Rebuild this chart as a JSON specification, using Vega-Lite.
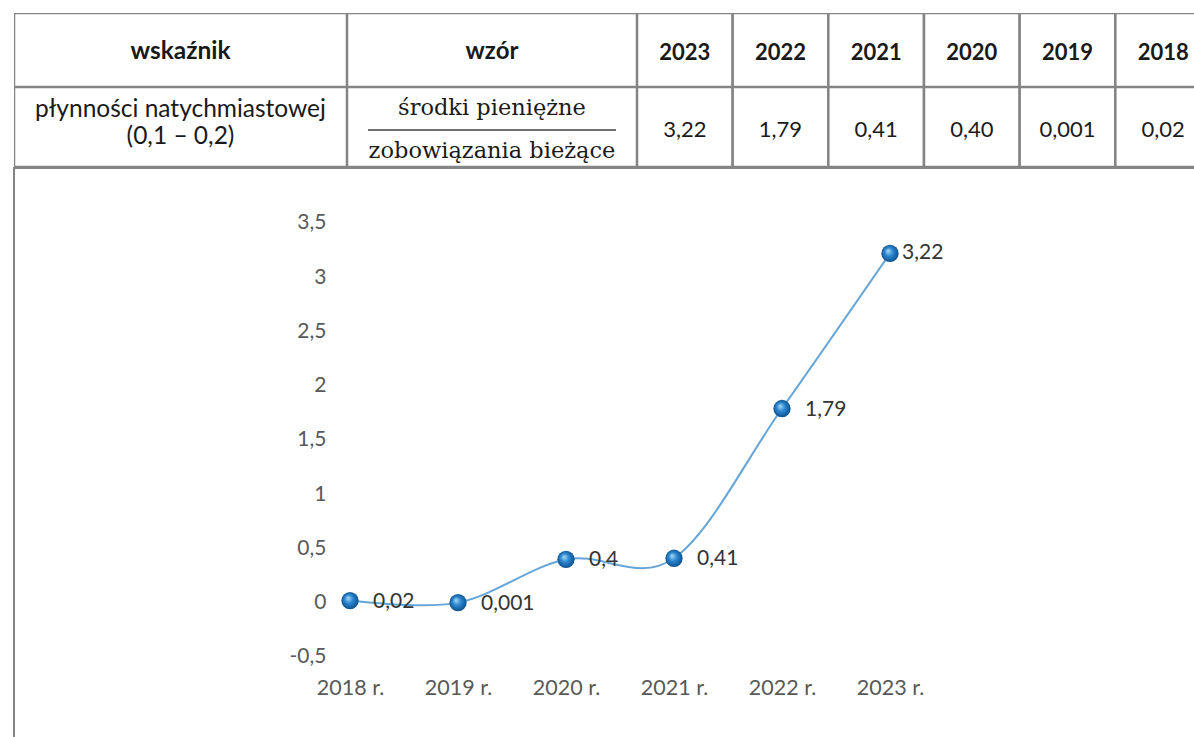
{
  "$schema": "https://vega.github.io/schema/vega-lite/v6.json",
  "background": "white",
  "padding": {"left": 13, "top": 13, "right": 0, "bottom": 0},
  "spacing": 0,
  "config": {
    "view": {"stroke": null},
    "concat": {"spacing": 0},
    "locale": {"number": {"decimal": ",", "thousands": " ", "grouping": [3], "currency": ["", " zł"], "minus": "-"}}
  },
  "vconcat": [
    {
      "spacing": 0,
      "hconcat": [
        {
          "width": 333,
          "height": 74,
          "data": {"values": [{"t": "wskaźnik"}]},
          "layer": [
            {"mark": {"type": "rect", "clip": true, "fill": "white", "stroke": "#858585", "strokeWidth": 2.5}, "encoding": {"x": {"value": 0}, "x2": {"value": "width"}, "y": {"value": 0}, "y2": {"value": "height"}}},
            {"mark": {"type": "text", "clip": true, "font": "Lato", "fontWeight": "bold", "fontSize": 24.5, "color": "#1a1a1a", "baseline": "middle", "yOffset": 2}, "encoding": {"text": {"field": "t"}}}
          ]
        },
        {
          "width": 290,
          "height": 74,
          "data": {"values": [{"t": "wzór"}]},
          "layer": [
            {"mark": {"type": "rect", "clip": true, "fill": "white", "stroke": "#858585", "strokeWidth": 2.5}, "encoding": {"x": {"value": 0}, "x2": {"value": "width"}, "y": {"value": 0}, "y2": {"value": "height"}}},
            {"mark": {"type": "text", "clip": true, "font": "Lato", "fontWeight": "bold", "fontSize": 24, "color": "#1a1a1a", "baseline": "middle", "yOffset": 2}, "encoding": {"text": {"field": "t"}}}
          ]
        },
        {
          "width": 574,
          "height": 74,
          "data": {"values": [
            {"rok": "2023"}, {"rok": "2022"}, {"rok": "2021"}, {"rok": "2020"}, {"rok": "2019"}, {"rok": "2018"}
          ]},
          "encoding": {
            "x": {"field": "rok", "type": "nominal", "sort": null, "axis": null, "scale": {"paddingInner": 0, "paddingOuter": 0}}
          },
          "layer": [
            {"mark": {"type": "rect", "clip": true, "fill": "white", "stroke": "#858585", "strokeWidth": 2.5}, "encoding": {"y": {"value": 0}, "y2": {"value": "height"}}},
            {"mark": {"type": "text", "clip": true, "font": "Lato", "fontWeight": "bold", "fontSize": 22, "color": "#1a1a1a", "baseline": "middle", "yOffset": 2.5}, "encoding": {"text": {"field": "rok"}}}
          ]
        }
      ]
    },
    {
      "spacing": 0,
      "hconcat": [
        {
          "width": 333,
          "height": 80,
          "data": {"values": [{"t": "płynności natychmiastowej\n(0,1 – 0,2)"}]},
          "layer": [
            {"mark": {"type": "rect", "clip": true, "fill": "white", "stroke": "#858585", "strokeWidth": 2.5}, "encoding": {"x": {"value": 0}, "x2": {"value": "width"}, "y": {"value": 0}, "y2": {"value": "height"}}},
            {"mark": {"type": "text", "clip": true, "font": "Lato", "fontSize": 24.5, "color": "#1a1a1a", "baseline": "middle", "lineBreak": "\n", "lineHeight": 27, "yOffset": -17}, "encoding": {"text": {"field": "t"}}}
          ]
        },
        {
          "width": 290,
          "height": 80,
          "data": {"values": [{"t": "środki pieniężne\nzobowiązania bieżące"}]},
          "layer": [
            {"mark": {"type": "rect", "clip": true, "fill": "white", "stroke": "#858585", "strokeWidth": 2.5}, "encoding": {"x": {"value": 0}, "x2": {"value": "width"}, "y": {"value": 0}, "y2": {"value": "height"}}},
            {"mark": {"type": "text", "clip": true, "font": "DejaVu Serif", "fontSize": 22.5, "color": "#1a1a1a", "baseline": "middle", "lineBreak": "\n", "lineHeight": 43, "yOffset": -19}, "encoding": {"text": {"field": "t"}}},
            {"mark": {"type": "rule", "clip": true, "color": "#707070", "strokeWidth": 2, "xOffset": 21, "x2Offset": -21, "yOffset": 3}, "encoding": {"x": {"value": 0}, "x2": {"value": "width"}}}
          ]
        },
        {
          "width": 574,
          "height": 80,
          "data": {"values": [
            {"rok": "2023", "t": "3,22"},
            {"rok": "2022", "t": "1,79"},
            {"rok": "2021", "t": "0,41"},
            {"rok": "2020", "t": "0,40"},
            {"rok": "2019", "t": "0,001"},
            {"rok": "2018", "t": "0,02"}
          ]},
          "encoding": {
            "x": {"field": "rok", "type": "nominal", "sort": null, "axis": null, "scale": {"paddingInner": 0, "paddingOuter": 0}}
          },
          "layer": [
            {"mark": {"type": "rect", "clip": true, "fill": "white", "stroke": "#858585", "strokeWidth": 2.5}, "encoding": {"y": {"value": 0}, "y2": {"value": "height"}}},
            {"mark": {"type": "text", "clip": true, "font": "Lato", "fontSize": 22, "color": "#1a1a1a", "baseline": "middle", "yOffset": 3}, "encoding": {"text": {"field": "t"}}}
          ]
        }
      ]
    },
    {
      "width": 1197,
      "height": 572,
      "view": {"stroke": "#858585", "strokeWidth": 2},
      "data": {"values": [
        {"rok": "2018 r.", "v": 0.02},
        {"rok": "2019 r.", "v": 0.001},
        {"rok": "2020 r.", "v": 0.4},
        {"rok": "2021 r.", "v": 0.41},
        {"rok": "2022 r.", "v": 1.79},
        {"rok": "2023 r.", "v": 3.22}
      ]},
      "encoding": {
        "x": {"field": "rok", "type": "ordinal", "sort": null, "title": null,
          "scale": {"type": "point", "range": [336, 876], "padding": 0},
          "axis": {"offset": -63, "domain": false, "ticks": false, "tickSize": 0, "labelPadding": 0, "labelAngle": 0, "labelFont": "Lato", "labelFontSize": 21.5, "labelColor": "#595959", "grid": false}},
        "y": {"field": "v", "type": "quantitative", "title": null,
          "scale": {"domain": [-1.265, 4.0069], "nice": false, "zero": false},
          "axis": {"offset": -312, "values": [-0.5, 0, 0.5, 1, 1.5, 2, 2.5, 3, 3.5], "format": "~g", "domain": false, "ticks": false, "tickSize": 0, "labelPadding": 0, "labelFont": "Lato", "labelFontSize": 21, "labelColor": "#595959", "grid": false}}
      },
      "layer": [
        {"mark": {"type": "line", "interpolate": "cardinal", "color": "#65a5d8", "strokeWidth": 2}},
        {"mark": {"type": "circle", "size": 300, "opacity": 1,
          "fill": {"gradient": "radial", "x1": 0.38, "y1": 0.35, "r1": 0, "x2": 0.5, "y2": 0.5, "r2": 0.55,
            "stops": [{"offset": 0, "color": "#a8dcf8"}, {"offset": 0.45, "color": "#2b86cf"}, {"offset": 1, "color": "#0b4a86"}]}}},
        {"transform": [{"filter": "datum.rok !== '2023 r.'"}], "mark": {"type": "text", "align": "left", "baseline": "middle", "dx": 23, "dy": 1, "font": "Lato", "fontSize": 21, "color": "#333333"}, "encoding": {"text": {"field": "v", "type": "quantitative", "format": "~g"}}},
        {"transform": [{"filter": "datum.rok === '2023 r.'"}], "mark": {"type": "text", "align": "left", "baseline": "middle", "dx": 12, "font": "Lato", "fontSize": 21, "color": "#333333"}, "encoding": {"text": {"field": "v", "type": "quantitative", "format": "~g"}}}
      ]
    }
  ]
}
